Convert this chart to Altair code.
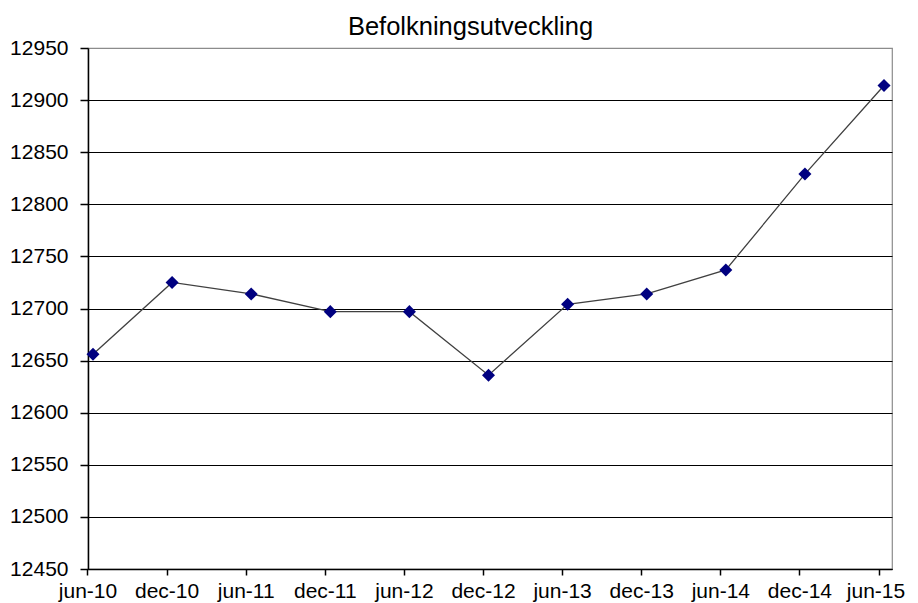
import altair as alt
import pandas as pd

periods = ["jun-10", "dec-10", "jun-11", "dec-11", "jun-12", "dec-12",
           "jun-13", "dec-13", "jun-14", "dec-14", "jun-15"]
population = [12656, 12725, 12714, 12697, 12697, 12636,
              12704, 12714, 12737, 12829, 12914]
y_ticks = [12450, 12500, 12550, 12600, 12650, 12700, 12750, 12800, 12850, 12900, 12950]
title_text = "Befolkningsutveckling"

df = pd.DataFrame({"period": periods, "population": population})
title_df = pd.DataFrame({"t": [title_text]})

FONT = "Liberation Sans"

x = alt.X(
    "period:O",
    sort=periods,
    scale=alt.Scale(type="point", padding=0.082, align=0.385),
    axis=alt.Axis(
        title=None, labelAngle=0, tickSize=6, labelPadding=5, tickOffset=-5.5,
        tickColor="black", domainColor="black", domainWidth=1.5, tickWidth=1.5,
        labelFontSize=21, labelFont=FONT, labelColor="black", grid=False,
        labelOffset={"condition": {"test": f"datum.value == '{periods[-1]}'", "value": -3},
                     "value": 0},
    ),
)
y = alt.Y(
    "population:Q",
    scale=alt.Scale(domain=[12450, 12950], nice=False, zero=False),
    axis=alt.Axis(
        title=None, values=y_ticks, format="d", tickSize=8, labelPadding=12,
        tickColor="black", domainColor="black", domainWidth=1.5, tickWidth=1.5,
        labelFontSize=21, labelFont=FONT, labelColor="black",
        grid=True, gridWidth=1.2,
        gridColor={"condition": {"test": "datum.value >= 12950", "value": "#8c8c8c"},
                   "value": "black"},
    ),
)

base = alt.Chart(df).encode(x=x, y=y)
line = base.mark_line(color="#404040", strokeWidth=1.3)
points = base.mark_point(shape="diamond", filled=True, size=170,
                         color="#000080", opacity=1)
title = alt.Chart(title_df).mark_text(
    font=FONT, fontSize=25.5, color="black", align="center", baseline="alphabetic"
).encode(text="t:N", x=alt.value(382.5), y=alt.value(-13))

chart = alt.layer(line, points, title).properties(
    width=804,
    height=521,
    autosize=alt.AutoSizeParams(type="none"),
    padding={"left": 80, "top": 40, "right": 18, "bottom": 34},
).configure_view(stroke="#8c8c8c", strokeWidth=1.2)

chart.save("out.html", embed_options={"renderer": "svg", "actions": False})
